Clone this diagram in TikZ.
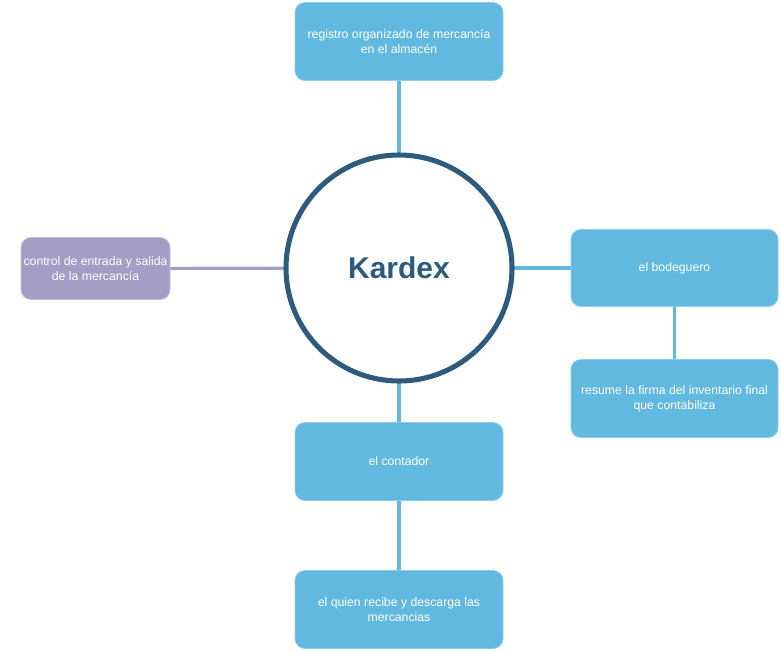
\documentclass[tikz,border=0pt]{standalone}
\usepackage{fontspec}
\setmainfont{Liberation Sans}
\usetikzlibrary{backgrounds}
\definecolor{boxblue}{HTML}{62B9E0}
\definecolor{boxedge}{HTML}{8CCDEB}
\definecolor{boxpurple}{HTML}{A39DC5}
\definecolor{purpleedge}{HTML}{C2BEDA}
\definecolor{ringblue}{HTML}{2E5A7E}
\definecolor{lineblue}{HTML}{62B9E0}
\definecolor{linepurple}{HTML}{A39DC5}
\begin{document}
\begin{tikzpicture}[x=0.75pt,y=-0.75pt,
  infobox/.style={draw=boxedge,line width=0.6pt,fill=boxblue,rounded corners=7.5pt,
    text=white,font=\fontsize{9.2}{11.3}\selectfont,align=center,inner sep=0pt},
  purplebox/.style={infobox,draw=purpleedge,fill=boxpurple},
  link/.style={draw=lineblue,line width=2.4pt},
  purplelink/.style={draw=linepurple,line width=2.4pt}]
\useasboundingbox (0,0) rectangle (781,651);
\node[circle,draw=ringblue,line width=3.8pt,fill=white,minimum size=226*0.75pt,inner sep=0pt,
  text=ringblue,font=\bfseries\fontsize{22.5}{26}\selectfont] (k) at (399,268) {Kardex};
\node[infobox,minimum width=208*0.75pt,minimum height=78*0.75pt] (top) at (399,41.5) {registro organizado de mercancía\\en el almacén};
\node[purplebox,minimum width=149*0.75pt,minimum height=62*0.75pt] (left) at (95.5,268.5) {control de entrada y salida\\de la mercancía};
\node[infobox,minimum width=207*0.75pt,minimum height=77*0.75pt] (r1) at (674.5,268) {el bodeguero};
\node[infobox,minimum width=207*0.75pt,minimum height=78*0.75pt] (r2) at (674.5,398.5) {resume la firma del inventario final\\que contabiliza};
\node[infobox,minimum width=208*0.75pt,minimum height=78*0.75pt] (b1) at (399,461.5) {el contador};
\node[infobox,minimum width=208*0.75pt,minimum height=78*0.75pt] (b2) at (399,609.5) {el quien recibe y descarga las\\mercancias};
\begin{scope}[on background layer]
\draw[link] (top.center) -- (k.center);
\draw[purplelink] (left.center) -- (k.center);
\draw[link] (k.center) -- (r1.center);
\draw[link] (r1.center) -- (r2.center);
\draw[link] (k.center) -- (b1.center);
\draw[link] (b1.center) -- (b2.center);
\end{scope}
\end{tikzpicture}
\end{document}
